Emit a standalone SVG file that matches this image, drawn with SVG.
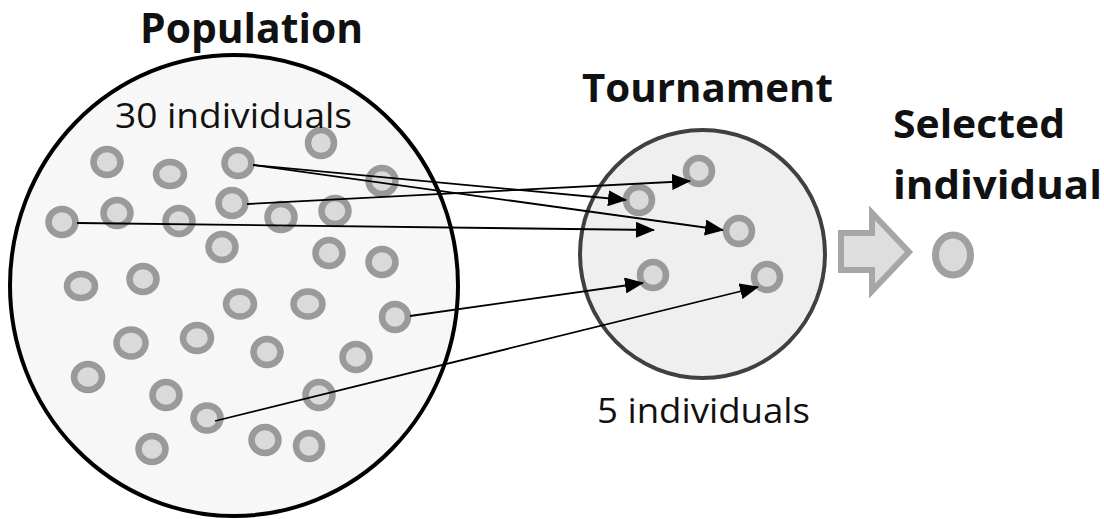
<svg xmlns="http://www.w3.org/2000/svg" width="1104" height="519" viewBox="0 0 1104 519">
<style>
.ind{fill:#dadada;stroke:#9a9a9a;stroke-width:6.5}
.lbl{font-family:"Open Sans","Liberation Sans",sans-serif;fill:#111}
.bold{font-weight:700}
.con{stroke:#000;stroke-width:1.8;fill:none;marker-end:url(#ah)}
</style>
<defs>
<marker id="ah" markerUnits="userSpaceOnUse" markerWidth="19" markerHeight="16" viewBox="0 0 19 16" refX="18" refY="8" orient="auto">
<path d="M0,0 L19,8 L0,16 Z" fill="#000"/>
</marker>
</defs>
<rect width="1104" height="519" fill="#fff"/>
<g id="population">
<ellipse cx="234" cy="285.5" rx="224" ry="230.5" fill="#f7f7f7" stroke="#000" stroke-width="4"/>
<g id="p1"><ellipse class="ind" cx="107" cy="162" rx="13.5" ry="13"/></g>
<g id="p2"><ellipse class="ind" cx="170" cy="174" rx="14" ry="12"/></g>
<g id="p3"><ellipse class="ind" cx="238" cy="163" rx="13.5" ry="13"/></g>
<g id="p4"><ellipse class="ind" cx="321" cy="143" rx="13" ry="13"/></g>
<g id="p5"><ellipse class="ind" cx="382" cy="181" rx="13.5" ry="13"/></g>
<g id="p6"><ellipse class="ind" cx="62" cy="222" rx="13.5" ry="13"/></g>
<g id="p7"><ellipse class="ind" cx="117" cy="213" rx="13.5" ry="13"/></g>
<g id="p8"><ellipse class="ind" cx="179" cy="221" rx="13.5" ry="13"/></g>
<g id="p9"><ellipse class="ind" cx="232" cy="203" rx="13.5" ry="13"/></g>
<g id="p10"><ellipse class="ind" cx="281" cy="217" rx="13.5" ry="13"/></g>
<g id="p11"><ellipse class="ind" cx="335" cy="211" rx="13.5" ry="13"/></g>
<g id="p12"><ellipse class="ind" cx="222" cy="247" rx="13.5" ry="13"/></g>
<g id="p13"><ellipse class="ind" cx="329" cy="253" rx="13.5" ry="13"/></g>
<g id="p14"><ellipse class="ind" cx="382" cy="262" rx="13.5" ry="13"/></g>
<g id="p15"><ellipse class="ind" cx="81" cy="286" rx="14" ry="12"/></g>
<g id="p16"><ellipse class="ind" cx="143" cy="279" rx="13.5" ry="13"/></g>
<g id="p17"><ellipse class="ind" cx="240" cy="304" rx="14" ry="12.5"/></g>
<g id="p18"><ellipse class="ind" cx="308" cy="304" rx="14.5" ry="12.5"/></g>
<g id="p19"><ellipse class="ind" cx="395" cy="317" rx="13" ry="13"/></g>
<g id="p20"><ellipse class="ind" cx="131" cy="343" rx="14.5" ry="13.5"/></g>
<g id="p21"><ellipse class="ind" cx="197" cy="338" rx="14" ry="13"/></g>
<g id="p22"><ellipse class="ind" cx="267" cy="352" rx="13.5" ry="13"/></g>
<g id="p23"><ellipse class="ind" cx="356" cy="357" rx="13.5" ry="13"/></g>
<g id="p24"><ellipse class="ind" cx="88" cy="377" rx="14" ry="13"/></g>
<g id="p25"><ellipse class="ind" cx="166" cy="395" rx="13.5" ry="13"/></g>
<g id="p26"><ellipse class="ind" cx="319" cy="395" rx="13.5" ry="13"/></g>
<g id="p27"><ellipse class="ind" cx="207" cy="418" rx="13.5" ry="12.5"/></g>
<g id="p28"><ellipse class="ind" cx="152" cy="449" rx="13.5" ry="13"/></g>
<g id="p29"><ellipse class="ind" cx="265" cy="440" rx="13.5" ry="13"/></g>
<g id="p30"><ellipse class="ind" cx="309" cy="446" rx="13" ry="13"/></g>
<text class="lbl bold" x="140" y="43" font-size="42" textLength="223" lengthAdjust="spacingAndGlyphs">Population</text>
<text class="lbl" x="115" y="128" font-size="34" textLength="237" lengthAdjust="spacingAndGlyphs">30 individuals</text>
</g>
<g id="tournament">
<ellipse cx="702.5" cy="254" rx="122.5" ry="124" fill="#efefef" stroke="#404040" stroke-width="4"/>
<g id="t1"><ellipse class="ind" cx="699" cy="171" rx="13" ry="13"/></g>
<g id="t2"><ellipse class="ind" cx="639" cy="200" rx="13" ry="13"/></g>
<g id="t3"><ellipse class="ind" cx="739" cy="231" rx="13" ry="13"/></g>
<g id="t4"><ellipse class="ind" cx="653" cy="275" rx="13" ry="13"/></g>
<g id="t5"><ellipse class="ind" cx="767" cy="277" rx="13" ry="13"/></g>
<text class="lbl bold" x="582" y="102" font-size="40" textLength="251" lengthAdjust="spacingAndGlyphs">Tournament</text>
<text class="lbl" x="597" y="423" font-size="34" textLength="213" lengthAdjust="spacingAndGlyphs">5 individuals</text>
</g>
<g id="connectors">
<line class="con" x1="253" y1="165" x2="626" y2="200"/>
<line class="con" x1="253" y1="165" x2="723" y2="230"/>
<line class="con" x1="247" y1="204" x2="690" y2="181"/>
<line class="con" x1="77" y1="223" x2="654" y2="230"/>
<line class="con" x1="410" y1="316" x2="643" y2="283"/>
<line class="con" x1="215" y1="421" x2="758" y2="287"/>
<path d="M841,233 L872,233 L872,213 L909,252 L872,291 L872,270 L841,270 Z" fill="#dedede" stroke="#a6a6a6" stroke-width="6"/>
</g>
<g id="selected">
<ellipse cx="953" cy="255" rx="17.5" ry="20" fill="#dadada" stroke="#a0a0a0" stroke-width="7"/>
<text class="lbl bold" x="893" y="138" font-size="40" textLength="172" lengthAdjust="spacingAndGlyphs">Selected</text>
<text class="lbl bold" x="893" y="199" font-size="40" textLength="209" lengthAdjust="spacingAndGlyphs">individual</text>
</g>
</svg>
